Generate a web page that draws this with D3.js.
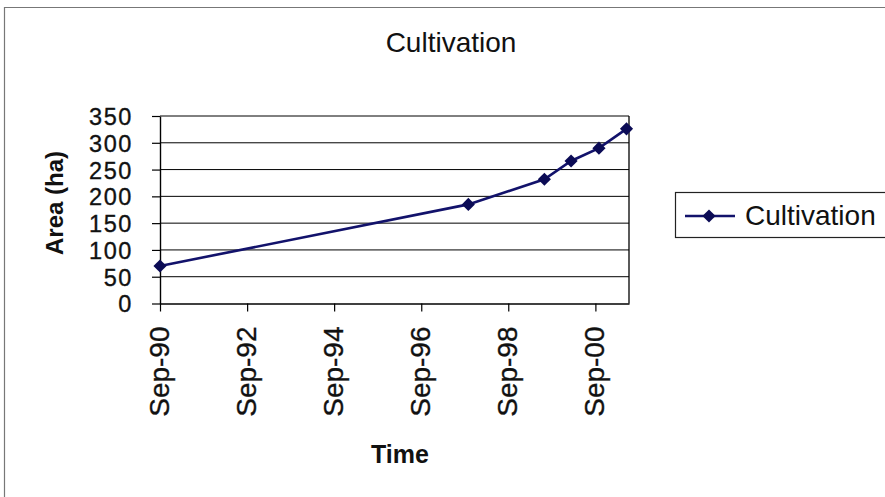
<!DOCTYPE html>
<html>
<head>
<meta charset="utf-8">
<script src="https://cdn.jsdelivr.net/npm/d3@7"></script>
<style>
  html, body { margin: 0; padding: 0; background: #fff; }
  svg { display: block; font-family: Arial, "Liberation Sans", sans-serif; }
</style>
</head>
<body>
<svg id="chart" width="885" height="497"></svg>
<script>
// Cultivated area over time
const dates = ["1990-09-01", "1997-10-01", "1999-07-01", "2000-02-10", "2000-10-01", "2001-05-20"];
const areas = [70, 185, 232, 266, 290, 326];
const seriesName = "Cultivation";
const yTicks = [0, 50, 100, 150, 200, 250, 300, 350];
const xTickDates = ["1990-09-01", "1992-09-01", "1994-09-01", "1996-09-01", "1998-09-01", "2000-09-01"];
const xDomain = ["1990-09-01", "2001-06-10"];

const parse = d3.utcParse("%Y-%m-%d");
const data = dates.map((d, i) => ({ date: parse(d), value: areas[i] }));

const svg = d3.select("#chart");
const W = 885, H = 497;
const plot = { left: 160, right: 629, top: 116, bottom: 303.5 };
const ink = "#000";
const textInk = "#111";
const navy = "#12126b";

// outer chart frame (left and top edges)
svg.append("path")
  .attr("d", `M4.5,${H} L4.5,7.5 L${W},7.5`)
  .attr("fill", "none").attr("stroke", "#777").attr("stroke-width", 1.2);

const x = d3.scaleUtc().domain(xDomain.map(parse)).range([plot.left, plot.right]);
const y = d3.scaleLinear().domain([0, 350]).range([plot.bottom, plot.top]);

// horizontal gridlines
svg.append("g")
  .selectAll("line")
  .data(yTicks.filter(v => v > 0))
  .join("line")
  .attr("x1", plot.left).attr("x2", plot.right)
  .attr("y1", d => y(d)).attr("y2", d => y(d))
  .attr("stroke", ink).attr("stroke-width", 1);

// right edge of the plot area
svg.append("line")
  .attr("x1", plot.right).attr("x2", plot.right)
  .attr("y1", plot.top).attr("y2", plot.bottom)
  .attr("stroke", ink).attr("stroke-width", 1.3);

// y axis
const yAxis = svg.append("g")
  .attr("transform", `translate(${plot.left},0)`)
  .call(d3.axisLeft(y).tickValues(yTicks).tickSize(8).tickPadding(19).tickSizeOuter(0));
yAxis.select(".domain").attr("stroke", ink).attr("stroke-width", 1.4);
yAxis.selectAll(".tick line").attr("stroke", ink).attr("stroke-width", 1.2);
yAxis.selectAll(".tick text")
  .attr("fill", textInk)
  .attr("stroke", textInk).attr("stroke-width", 0.35)
  .style("font-size", "23.5px")
  .style("letter-spacing", "1.6px")
  .attr("dy", "0.36em");

// x axis with rotated month labels
const xAxis = svg.append("g")
  .attr("transform", `translate(0,${plot.bottom})`)
  .call(d3.axisBottom(x)
    .tickValues(xTickDates.map(parse))
    .tickFormat(d3.utcFormat("%b-%y"))
    .tickSize(8).tickSizeOuter(0));
xAxis.select(".domain").attr("stroke", ink).attr("stroke-width", 1.4);
xAxis.selectAll(".tick line").attr("stroke", ink).attr("stroke-width", 1.2);
xAxis.selectAll(".tick text")
  .attr("fill", textInk)
  .attr("stroke", textInk).attr("stroke-width", 0.35)
  .style("font-size", "28px")
  .style("text-anchor", "end")
  .attr("transform", "rotate(-90)")
  .attr("x", -23)
  .attr("y", 0)
  .attr("dy", "0.3em");

// series line
svg.append("path")
  .datum(data)
  .attr("fill", "none")
  .attr("stroke", navy)
  .attr("stroke-width", 2.6)
  .attr("d", d3.line().x(d => x(d.date)).y(d => y(d.value)));

// diamond markers
const diamond = d3.symbol().type(d3.symbolDiamond2).size(110);
svg.append("g")
  .selectAll("path")
  .data(data)
  .join("path")
  .attr("transform", d => `translate(${x(d.date)},${y(d.value)})`)
  .attr("d", diamond)
  .attr("fill", "#0b0b55");

// title
svg.append("text")
  .attr("x", 451).attr("y", 52)
  .attr("text-anchor", "middle")
  .style("font-size", "28px")
  .attr("fill", textInk)
  .text("Cultivation");

// axis titles
svg.append("text")
  .attr("transform", "translate(63,203) rotate(-90)")
  .attr("text-anchor", "middle")
  .style("font-size", "24px").style("font-weight", "bold")
  .attr("fill", textInk)
  .text("Area (ha)");

svg.append("text")
  .attr("x", 400).attr("y", 463)
  .attr("text-anchor", "middle")
  .style("font-size", "25px").style("font-weight", "bold")
  .attr("fill", textInk)
  .text("Time");

// legend
const lg = svg.append("g").attr("transform", "translate(675,192)");
lg.append("rect")
  .attr("x", 0.5).attr("y", 0.5).attr("width", 230).attr("height", 45)
  .attr("fill", "#fff").attr("stroke", "#222").attr("stroke-width", 1.2);
lg.append("line")
  .attr("x1", 10).attr("x2", 60).attr("y1", 24).attr("y2", 24)
  .attr("stroke", navy).attr("stroke-width", 2.6);
lg.append("path")
  .attr("transform", "translate(34,24)")
  .attr("d", diamond)
  .attr("fill", "#0b0b55");
lg.append("text")
  .attr("x", 70).attr("y", 33)
  .style("font-size", "28px")
  .attr("fill", textInk)
  .text(seriesName);
</script>
</body>
</html>
